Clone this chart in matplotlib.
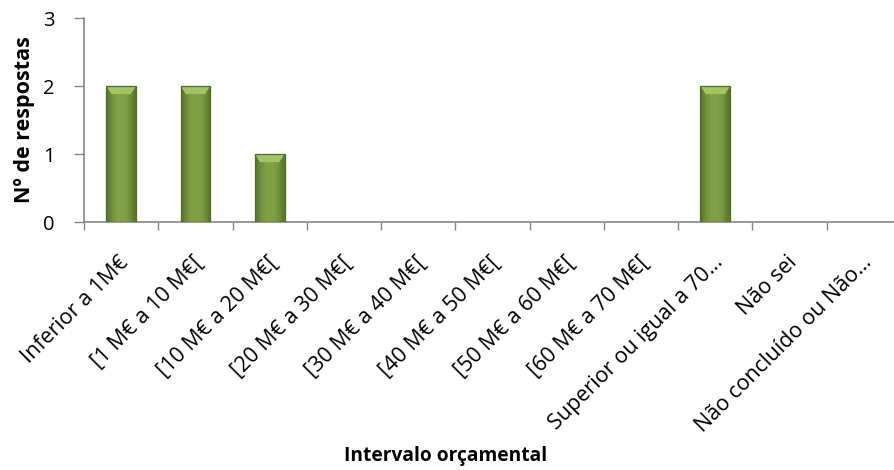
import numpy as np
import matplotlib.pyplot as plt
from matplotlib.patches import Polygon
from matplotlib.colors import LinearSegmentedColormap

plt.rcParams["font.family"] = ["Open Sans", "DejaVu Sans"]

# categorias e número de respostas
categorias = [
    "Inferior a 1M€",
    "[1 M€ a 10 M€[",
    "[10 M€ a 20 M€[",
    "[20 M€ a 30 M€[",
    "[30 M€ a 40 M€[",
    "[40 M€ a 50 M€[",
    "[50 M€ a 60 M€[",
    "[60 M€ a 70 M€[",
    "Superior ou igual a 70…",
    "Não sei",
    "Não concluído ou Não…",
]
respostas = [2, 2, 1, 0, 0, 0, 0, 0, 2, 0, 0]

W, H = 894, 470
fig = plt.figure(figsize=(W / 100, H / 100), dpi=100)
# eixo estende-se além da margem direita
ax = fig.add_axes([84 / W, 1 - 222 / H, (901 - 84) / W, (222 - 18) / H])

x = np.arange(len(categorias))
largura = 0.4

# gradiente horizontal (efeito de relevo)
grad = np.array([[0.0, 0.6, 0.9, 1.0, 1.0, 0.9, 0.6, 0.0]])
cmap = LinearSegmentedColormap.from_list("g", ["#5a772a", "#80a145"])
for b, v in zip(x, respostas):
    if v <= 0:
        continue
    x0, x1 = b - largura / 2, b + largura / 2
    ax.imshow(grad, cmap=cmap, aspect="auto", extent=[x0, x1, 0, v],
              zorder=3, interpolation="bicubic")
    # faceta clara no topo
    h = 0.12
    ax.add_patch(Polygon([[x0, v], [x1, v], [x1 - 0.07, v - h], [x0 + 0.07, v - h]],
                         closed=True, facecolor="#a3c464", edgecolor="none", zorder=4))
    ax.add_patch(plt.Rectangle((x0, 0), largura, v, fill=False,
                               edgecolor="#4f6a24", linewidth=0.9, zorder=5))

ax.set_xlim(-0.5, len(categorias) - 0.5)
ax.set_ylim(0, 3)
ax.set_yticks([0, 1, 2, 3])
ax.set_yticklabels(["0", "1", "2", "3"], fontsize=14.5)

ax.set_xticks(np.arange(len(categorias) + 1) - 0.5)
ax.set_xticklabels([])
ax.tick_params(axis="x", length=6, color="#868686", width=1)
ax.tick_params(axis="y", length=7, color="#868686", width=1, pad=14)

for i, c in enumerate(categorias):
    ax.text(i + 0.06, -0.55, c, rotation=45, ha="right", va="center",
            rotation_mode="anchor", fontsize=15.5, clip_on=False)

for s in ["top", "right"]:
    ax.spines[s].set_visible(False)
for s in ["left", "bottom"]:
    ax.spines[s].set_color("#868686")
    ax.spines[s].set_linewidth(1.2)

ax.set_ylabel("Nº de respostas", fontsize=15.5, fontweight="bold", labelpad=6)
fig.text(446 / W, 1 - 456 / H, "Intervalo orçamental", ha="center", va="center",
         fontsize=13.8, fontweight="bold")

fig.savefig("out.png", dpi=100)
